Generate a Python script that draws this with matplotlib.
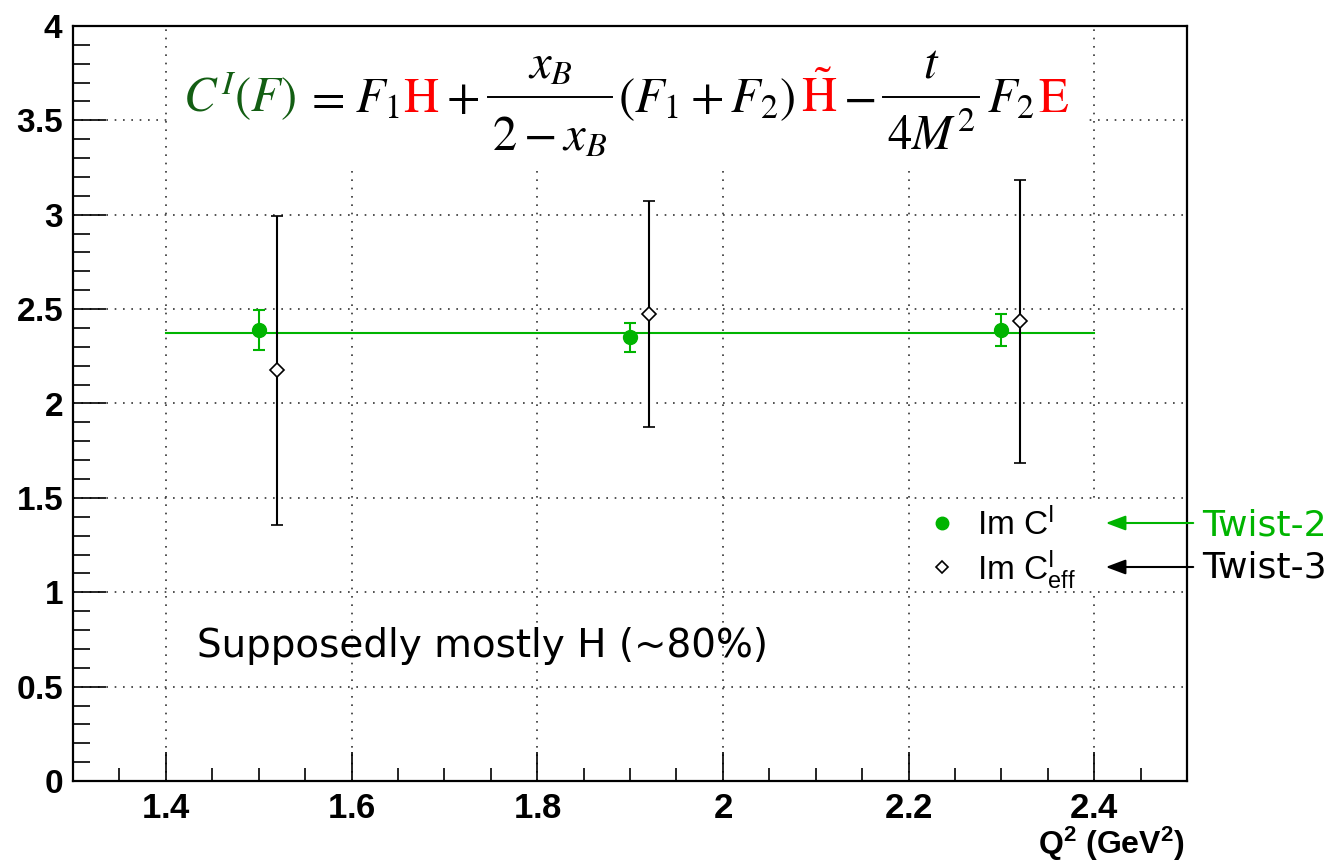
import numpy as np
import matplotlib.pyplot as plt
from matplotlib.ticker import MultipleLocator, FuncFormatter
from matplotlib.patches import Rectangle, FancyArrowPatch
from matplotlib.lines import Line2D

plt.rcParams['font.family'] = ['Liberation Sans', 'DejaVu Sans']
plt.rcParams['mathtext.fontset'] = 'custom'
plt.rcParams['mathtext.rm'] = 'Liberation Sans'
plt.rcParams['mathtext.it'] = 'Liberation Sans:italic'
plt.rcParams['mathtext.bf'] = 'Liberation Sans:bold'

# data
q2_tw2 = [1.5, 1.9, 2.3]
im_c = [2.39, 2.35, 2.39]
im_c_err = [0.105, 0.075, 0.085]
q2_tw3 = [1.52, 1.92, 2.32]
im_c_eff = [2.175, 2.475, 2.435]
im_c_eff_err = [0.82, 0.60, 0.75]
fit_range = [1.4, 2.4]
fit_value = 2.375

W, H = 1341, 863
green = '#00b400'
dkgreen = '#135e13'

fig = plt.figure(figsize=(W/100, H/100), dpi=100)
ax = fig.add_axes([73/W, 1-781/H, (1187-73)/W, (781-26)/H])
ax.set_xlim(1.3, 2.5)
ax.set_ylim(0, 4)

ax.xaxis.set_major_locator(MultipleLocator(0.2))
ax.xaxis.set_minor_locator(MultipleLocator(0.05))
ax.yaxis.set_major_locator(MultipleLocator(0.5))
ax.yaxis.set_minor_locator(MultipleLocator(0.1))
fmt = FuncFormatter(lambda v, p: r'$\mathbf{%g}$' % round(v, 3))
ax.xaxis.set_major_formatter(fmt)
ax.yaxis.set_major_formatter(fmt)
ax.tick_params(axis='both', which='both', direction='in', top=False, right=False, width=1.2)
ax.tick_params(axis='y', which='major', length=24, pad=7, labelsize=24)
ax.tick_params(axis='y', which='minor', length=12)
ax.tick_params(axis='x', which='major', length=21, pad=8, labelsize=25)
ax.tick_params(axis='x', which='minor', length=9.5)
for sp in ax.spines.values():
    sp.set_linewidth(1.6)
    sp.set_zorder(10)

ax.grid(True, which='major', color='#333333', linestyle=(0, (1, 4)), linewidth=1.2)
ax.set_axisbelow(True)

# white boxes that cover the grid (formula and legend)
ax.add_patch(Rectangle((0.087, 0.815), 0.824, 0.182, transform=ax.transAxes,
                       facecolor='white', edgecolor='none', zorder=1.5))
ax.add_patch(Rectangle((0.751, 0.253), 0.243, 0.121, transform=ax.transAxes,
                       facecolor='white', edgecolor='none', zorder=1.5))

# fit line
ax.plot(fit_range, [fit_value, fit_value], color=green, lw=1.5, zorder=3)

ax.errorbar(q2_tw3, im_c_eff, yerr=im_c_eff_err, fmt='D', ms=7.5, mfc='white', mec='black',
            mew=1.2, ecolor='black', elinewidth=1.5, capsize=4, capthick=1.5, zorder=4)
ax.errorbar(q2_tw2, im_c, yerr=im_c_err, fmt='o', ms=10, color=green,
            ecolor=green, elinewidth=1.5, capsize=4, capthick=1.5, zorder=5)

# legend drawn by hand
ax.plot([(942-73)/1114], [(781-523)/755], 'o', ms=9, color=green, transform=ax.transAxes, zorder=6)
ax.plot([(942-73)/1114], [(781-567)/755], 'D', ms=6.5, mfc='white', mec='black', mew=1.2,
        transform=ax.transAxes, zorder=6)
fig.text(977/W, 1-535/H, r'Im C$^{\mathrm{I}}$', fontsize=24, va='baseline')
fig.text(977/W, 1-580/H, r'Im C$^{\mathrm{I}}_{\mathrm{eff}}$', fontsize=24, va='baseline')

fig.text(1202/W, 1-535/H, 'Twist-2', fontsize=26, color=green, va='baseline',
         family='DejaVu Sans')
fig.text(1202/W, 1-578/H, 'Twist-3', fontsize=26, color='black', va='baseline',
         family='DejaVu Sans')
for yy, c in [(523, green), (567, 'black')]:
    fig.patches.append(FancyArrowPatch(
        (1196/W, 1-yy/H), (1103/W, 1-yy/H), transform=fig.transFigure,
        arrowstyle='-|>,head_length=0.8,head_width=0.3', mutation_scale=15,
        color=c, lw=1.5))

fig.text(197/W, 1-657/H, 'Supposedly mostly H (~80%)', fontsize=28, va='baseline',
         family='DejaVu Sans')

fig.text(1185/W, 1-854/H, r'Q$^{\mathbf{2}}$ (GeV$^{\mathbf{2}}$)', fontsize=23,
         fontweight='bold', ha='right', va='baseline')

# formula, built piece by piece so the colours can differ
fs = 35
base, bar_y, num_y, den_y = 112, 97, 78, 150
items = [('t', r'$C^{I}(F)$', dkgreen, 8), ('t', r'$=$', 'black', 11),
         ('t', r'$F_{1}$', 'black', 3), ('t', r'$\mathrm{H}$', 'red', 7),
         ('t', r'$+$', 'black', 9), ('f', r'$x_{B}$', r'$2-x_{B}$', 6),
         ('t', r'$(F_{1}+F_{2})$', 'black', 6), ('t', r'$\tilde{\mathrm{H}}$', 'red', 6),
         ('t', r'$-$', 'black', 8), ('f', r'$t$', r'$4M^{2}$', 8),
         ('t', r'$F_{2}$', 'black', 3), ('t', r'$\mathrm{E}$', 'red', 0)]
renderer = fig.canvas.get_renderer()


def put(s, x, y, c, ha='left'):
    t = fig.text(x/W, 1-y/H, s, color=c, fontsize=fs, math_fontfamily='stix',
                 va='baseline', ha=ha)
    return t.get_window_extent(renderer)


x = 183
for it in items:
    if it[0] == 't':
        bb = put(it[1], x, base, it[2])
        x = bb.x1 + it[3]
    else:
        tn = fig.text(0, 0, it[1], fontsize=fs, math_fontfamily='stix')
        td = fig.text(0, 0, it[2], fontsize=fs, math_fontfamily='stix')
        w = max(tn.get_window_extent(renderer).width, td.get_window_extent(renderer).width) + 8
        tn.remove()
        td.remove()
        cx = x + w/2
        put(it[1], cx, num_y, 'black', ha='center')
        put(it[2], cx, den_y, 'black', ha='center')
        fig.add_artist(Line2D([x/W, (x+w)/W], [1-bar_y/H, 1-bar_y/H], color='black', lw=1.4,
                              transform=fig.transFigure))
        x = x + w + it[3]

fig.savefig('out.png', dpi=100)
plt.close()
